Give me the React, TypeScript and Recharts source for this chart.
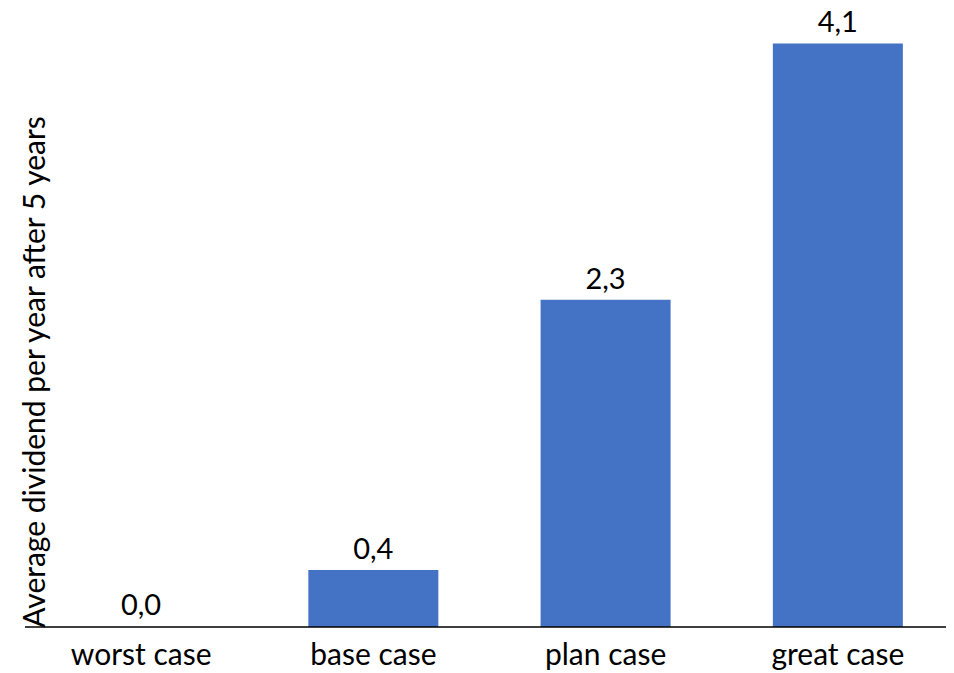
import React from "react";
import { BarChart, Bar, XAxis, YAxis, LabelList, Cell } from "recharts";

const scenarios = ["worst case", "base case", "plan case", "great case"];
const dividends = [0.0, 0.4, 2.3, 4.1];
const yAxisTitle = "Average dividend per year after 5 years";

const data = scenarios.map((name, i) => ({ name, value: dividends[i] }));

const FONT = "Lato, 'Open Sans', sans-serif";
const BAR_BLUE = "#4472C4";
const fmt = (v: any) => Number(v).toFixed(1).replace(".", ",");

const CategoryTick = (props: any) => {
  const { x, y, payload } = props;
  return (
    <text x={x} y={y + 30} textAnchor="middle" fontFamily={FONT} fontSize={30} fill="#000">
      {payload.value}
    </text>
  );
};

const ValueLabel = (props: any) => {
  const { x, y, width, value } = props;
  return (
    <text
      x={Number(x) + Number(width) / 2}
      y={Number(y) - 11}
      textAnchor="middle"
      fontFamily={FONT}
      fontSize={29}
      fill="#000"
    >
      {fmt(value)}
    </text>
  );
};

export default function App() {
  return (
    <div style={{ width: 946, height: 665, background: "#fff" }}>
      <BarChart
        width={946}
        height={665}
        data={data}
        margin={{ top: 7, right: 0, bottom: 0, left: 0 }}
        barCategoryGap="22%"
      >
        <XAxis
          dataKey="name"
          height={46}
          axisLine={{ stroke: "#000", strokeWidth: 1.5 }}
          tickLine={false}
          tick={<CategoryTick />}
          interval={0}
        />
        <YAxis
          width={17}
          domain={[0, 4.3]}
          allowDataOverflow
          axisLine={false}
          tickLine={false}
          tick={false}
          label={() => (
            <text
              x={37}
              y={364}
              transform="rotate(-90 37 364)"
              textAnchor="middle"
              fontFamily={FONT}
              fontSize={30}
              fill="#000"
            >
              {yAxisTitle}
            </text>
          )}
        />
        {/* minPointSize keeps the zero bar (and its "0,0" label) rendered; that bar itself is transparent */}
        <Bar dataKey="value" fill={BAR_BLUE} minPointSize={1} isAnimationActive={false}>
          {data.map((d) => (
            <Cell key={d.name} fill={d.value === 0 ? "transparent" : BAR_BLUE} />
          ))}
          <LabelList dataKey="value" content={<ValueLabel />} />
        </Bar>
      </BarChart>
    </div>
  );
}
